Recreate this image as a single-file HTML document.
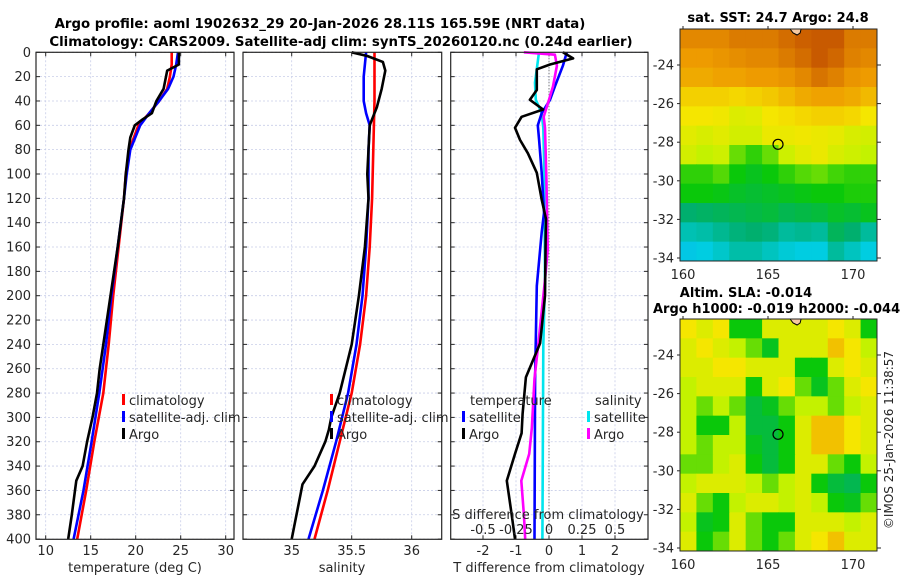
<!DOCTYPE html>
<html><head><meta charset="utf-8"><style>
body{margin:0;background:#fff;}
svg{display:block;font-family:"DejaVu Sans","Liberation Sans",sans-serif;}
</style></head><body>
<svg id="fig" width="900" height="580" viewBox="0 0 900 580">
<text x="320" y="28" text-anchor="middle" font-size="13.3" font-weight="bold">Argo profile: aoml 1902632_29 20-Jan-2026 28.11S 165.59E (NRT data)</text>
<text x="341" y="46" text-anchor="middle" font-size="13.3" font-weight="bold">Climatology: CARS2009. Satellite-adj clim: synTS_20260120.nc (0.24d earlier)</text>
<text x="778" y="22" text-anchor="middle" font-size="13" font-weight="bold">sat. SST: 24.7 Argo: 24.8</text>
<text x="746" y="297" text-anchor="middle" font-size="13" font-weight="bold">Altim. SLA: -0.014</text>
<text x="653" y="313" font-size="13" font-weight="bold">Argo h1000: -0.019 h2000: -0.044</text>
<text transform="translate(893,440) rotate(-90)" text-anchor="middle" font-size="12" fill="#262626">©IMOS 25-Jan-2026 11:38:57</text>
</svg>
<script>
// ---------- data ----------
const depthTicks=[0,20,40,60,80,100,120,140,160,180,200,220,240,260,280,300,320,340,360,380,400];
const tempTicks=[10,15,20,25,30];
const salTicks=[35,35.5,36];
const salTickLabels=["35","35.5","36"];
const tdiffTicks=[-2,-1,0,1,2];
const sdiffTicks=[-0.5,-0.25,0,0.25,0.5];
const sdiffTickLabels=["-0.5","-0.25","0","0.25","0.5"];
// temperature profiles [depth, value]
const tempClimDepth=[0,10,20,30,40,50,60,80,100,120,160,200,240,280,320,360,400];
const tempClim=[24.0,24.0,23.8,23.5,22.6,21.5,20.3,19.3,18.9,18.7,18.1,17.5,17.0,16.4,15.4,14.5,13.5];
const tempSatDepth=[0,10,20,30,40,50,60,80,100,120,160,200,240,280,320,360,400];
const tempSat=[24.7,24.5,24.2,23.6,22.6,21.5,20.5,19.4,19.0,18.7,18.0,17.3,16.7,15.95,15.1,14.2,13.1];
const tempArgoDepth=[0,5,10,15,30,40,50,55,60,70,80,100,120,160,200,240,260,280,300,320,340,352,360,380,400];
const tempArgo=[24.8,24.8,24.8,23.5,23.1,22.3,21.8,20.8,19.9,19.4,19.2,18.9,18.7,18.0,17.2,16.4,16.0,15.7,15.2,14.6,14.1,13.4,13.25,12.9,12.5];
// salinity profiles
const salClimDepth=[0,40,80,120,160,200,240,280,320,360,400];
const salClim=[35.69,35.69,35.68,35.67,35.65,35.62,35.57,35.50,35.40,35.30,35.19];
const salSatDepth=[0,20,40,50,60,80,120,160,200,240,280,320,360,400];
const salSat=[35.62,35.60,35.60,35.62,35.65,35.64,35.64,35.62,35.59,35.54,35.47,35.37,35.26,35.14];
const salArgoDepth=[0,3,8,15,30,45,55,60,80,100,120,160,200,240,280,300,310,320,340,355,370,390,400];
const salArgo=[35.50,35.63,35.76,35.78,35.75,35.71,35.67,35.65,35.64,35.63,35.64,35.61,35.56,35.50,35.40,35.33,35.31,35.28,35.19,35.09,35.06,35.02,35.00];
// differences
const dTArgoDepth=[0,5,10,14,31,39,47,53,62,72,83,99,121,137,148,200,239,267,297,313,330,352,380,400];
const dTArgo=[0.42,0.73,0.03,-0.37,-0.37,-0.58,-0.18,-0.83,-1.03,-0.88,-0.64,-0.37,-0.22,-0.09,-0.1,-0.12,-0.27,-0.7,-0.8,-0.83,-1.03,-1.28,-1.13,-1.03];
const dTSatDepth=[0,11,28,39,50,60,72,99,132,148,192,268,400];
const dTSat=[0.54,0.42,0.18,0.03,-0.22,-0.34,-0.3,-0.22,-0.15,-0.22,-0.37,-0.42,-0.44];
const dSArgoDepth=[0,2,11,28,39,53,62,104,162,187,239,268,309,330,352,380,400];
const dSArgo=[-0.19,0.045,0.06,0.03,0,-0.04,-0.03,-0.02,-0.01,-0.03,-0.08,-0.11,-0.13,-0.15,-0.21,-0.19,-0.18];
const dSSatDepth=[0,25,39,50,62,100,187,241,400];
const dSSat=[-0.076,-0.106,-0.1,-0.055,-0.043,-0.035,-0.03,-0.043,-0.05];
// maps: colour index grids (rows north->south, 12 cols west->east)
const mapLatTicks=[-24,-26,-28,-30,-32,-34];
const mapLonTicks=[160,165,170];
const argoLon=165.59, argoLat=-28.11;
const sstGrid=[
[6.3,6.3,6.3,6.5,6.5,6.5,6.7,6.9,7.2,7,6.5,6.5],
[6,6,6.1,6.2,6.3,6.3,6.5,6.7,7,6.8,6.4,6.3],
[5.8,5.8,5.9,5.9,6,6,6.1,6.3,6.6,6.4,6.1,6],
[5.3,5.3,5.3,5.2,5.3,5.4,5.6,5.8,5.9,5.9,5.8,5.6],
[5,5,4.9,4.5,4.6,5,5.1,5.2,5.3,5.3,5.2,5],
[4.6,4.4,4.6,4.3,4.3,4.8,4.8,4.9,4.8,4.7,4.4,4.3],
[4.3,4,4.2,3.5,3.2,3.5,4.2,4.6,4.8,4.4,4.2,4],
[3.2,3.2,3.4,3,2.8,3,3.2,3.4,3.5,3.3,3.2,3.2],
[3,3,2.9,2.7,2.6,2.7,2.8,2.9,3,3,3.1,3.1],
[2,2.1,2.2,2.3,2.4,2.5,2.3,2.4,2.5,2.7,2.6,2.8],
[1.4,1.5,1.7,1.9,2,1.9,1.6,1.7,1.6,2.2,2,1.6],
[0.9,1,1.2,1.5,1.5,1.3,1.1,1,1,1.6,1.3,1]];
const slaGrid=[
[5,4.5,5,3,3,4.5,4.5,4.5,4.5,5,4.5,3],
[4.5,5,4.5,4,3.5,2.8,4.5,4.5,4.5,5.5,5,4],
[4.5,4.5,5,5,4.5,4.5,4.5,3,3,4.5,5,4.5],
[4,4.5,4.5,4.5,3,4.5,5,3.5,2.8,3.5,4.5,5],
[4,3.5,4,3.5,2.5,2.8,3.5,4,4,3.5,4,4.5],
[4,3,3,4,2.5,2.5,3,4.5,5.5,5.5,5,4.5],
[4,3.5,4,4,2.8,2.5,3,4.5,5.5,5.5,5,4.5],
[3.5,3.5,4,4.5,3,2.5,3,4.5,4.5,3.5,3,4],
[4,4.5,4.5,4.5,4,3.5,4,4.5,3,2.5,2.3,3],
[4.5,3.5,3,4,4.5,4.5,4,4.5,4,3,2.8,3.5],
[4,2.8,3,4.5,3.5,3,3,4.5,4.5,4.5,4,4.5],
[4.5,3,3.5,4.5,3.5,3,3.5,4.5,5,5.5,4.5,4.5]];

// ---------- helpers ----------
const NS="http://www.w3.org/2000/svg";
const svg=document.getElementById('fig');
function mk(tag,attrs,parent){const e=document.createElementNS(NS,tag);for(const k in attrs)e.setAttribute(k,attrs[k]);(parent||svg).appendChild(e);return e;}
const Y0=52.3,YK=1.217;
const yD=d=>Y0+YK*d;
const xT=t=>45.7+9*(t-10);
const xS=s=>291.7+120*(s-35);
const xdT=v=>549+33*v;
const xdS=v=>549+132*v;
const panels=[[36,234],[243,441.7],[450.7,648]];
const PB=539.3;

panels.forEach((p,i)=>{
  const g=mk('g',{});
  
  
  depthTicks.forEach(d=>{
    const l=mk('line',{x1:p[0],x2:p[1],y1:yD(d),y2:yD(d),stroke:'#c8cde8','stroke-width':0.8,'stroke-dasharray':'2,2'},g);
    
    
    mk('line',{x1:p[0],x2:p[0]+4,y1:yD(d),y2:yD(d),stroke:'#262626'},g);
    mk('line',{x1:p[1]-4,x2:p[1],y1:yD(d),y2:yD(d),stroke:'#262626'},g);
  });
  const xs=i==0?tempTicks.map(xT):i==1?salTicks.map(xS):tdiffTicks.map(xdT);
  xs.forEach(x=>{
    const l=mk('line',{x1:x,x2:x,y1:Y0,y2:PB,stroke:'#c8cde8','stroke-width':0.8,'stroke-dasharray':'2,2'},g);
    
    
    mk('line',{x1:x,x2:x,y1:PB-4,y2:PB,stroke:'#262626'},g);
    mk('line',{x1:x,x2:x,y1:Y0,y2:Y0+4,stroke:'#262626'},g);
  });
});
const zl=mk('line',{x1:xdT(0),x2:xdT(0),y1:Y0,y2:PB,stroke:'#555','stroke-width':1,'stroke-dasharray':'1,2'});



depthTicks.forEach(d=>{
  const t=mk('text',{x:31,y:yD(d)+4.5,'text-anchor':'end','font-size':13,fill:'#262626'});
  t.textContent=d;
  
  
});
function xlabels(ticks,labels,fx,y,name){
  ticks.forEach((v,i)=>{
    const t=mk('text',{x:fx(v),y:y,'text-anchor':'middle','font-size':13,fill:'#262626'});
    t.textContent=labels[i];
    
    
  });
}
xlabels(tempTicks,tempTicks.map(String),xT,555,'temperature-tick-label');
xlabels(salTicks,salTickLabels,xS,555,'salinity-tick-label');
xlabels(tdiffTicks,tdiffTicks.map(String),xdT,555,'t-diff-tick-label');
function lbl(txt,x,y,name,anchor){const t=mk('text',{x:x,y:y,'text-anchor':anchor||'middle','font-size':13,fill:'#262626'});t.textContent=txt;return t;}
lbl('temperature (deg C)',135,572,'temperature-axis-title');
lbl('salinity',342,572,'salinity-axis-title');
lbl('T difference from climatology',549,572,'t-diff-axis-title');

function series(depths,vals,fx,color,name,w){
  const pts=depths.map((d,i)=>fx(vals[i]).toFixed(1)+','+yD(d).toFixed(1)).join(' ');
  const p=mk('polyline',{points:pts,fill:'none',stroke:color,'stroke-width':w||2.6,'stroke-linejoin':'round'});
  
  
}
series(tempClimDepth,tempClim,xT,'#ff0000','temp-climatology-line');
series(tempSatDepth,tempSat,xT,'#0000ff','temp-satellite-line');
series(tempArgoDepth,tempArgo,xT,'#000','temp-argo-line');
series(salClimDepth,salClim,xS,'#ff0000','sal-climatology-line');
series(salSatDepth,salSat,xS,'#0000ff','sal-satellite-line');
series(salArgoDepth,salArgo,xS,'#000','sal-argo-line');
series(dSSatDepth,dSSat,xdS,'#00e5ee','sdiff-satellite-line');
series(dTSatDepth,dTSat,xdT,'#0000ff','tdiff-satellite-line');
series(dSArgoDepth,dSArgo,xdS,'#ff00ff','sdiff-argo-line');
series(dTArgoDepth,dTArgo,xdT,'#000','tdiff-argo-line');

panels.forEach((p,i)=>{
  const r=mk('rect',{x:p[0],y:Y0,width:p[1]-p[0],height:PB-Y0,fill:'none',stroke:'#262626','stroke-width':1.2});
  
  
});

function legItem(x,y,color,txt,name){
  const m=mk('rect',{x:x,y:y-11,width:3,height:11,fill:color});
  
  
  lbl(txt,x+7,y,name,'start');
}
legItem(122,405,'#ff0000','climatology','legend-climatology');
legItem(122,422,'#0000ff','satellite-adj. clim','legend-satellite');
legItem(122,439,'#000','Argo','legend-argo');
legItem(330,405,'#ff0000','climatology','legend2-climatology');
legItem(330,422,'#0000ff','satellite-adj. clim','legend2-satellite');
legItem(330,439,'#000','Argo','legend2-argo');
lbl('temperature',470,405,'legend3-temperature-header','start');
lbl('salinity',595,405,'legend3-salinity-header','start');
legItem(462,422,'#0000ff','satellite','legend3-t-satellite');
legItem(462,439,'#000','Argo','legend3-t-argo');
legItem(587,422,'#00e5ee','satellite','legend3-s-satellite');
legItem(587,439,'#ff00ff','Argo','legend3-s-argo');
lbl('S difference from climatology',548,519,'s-diff-axis-title');
xlabels(sdiffTicks,sdiffTickLabels,xdS,534,'s-diff-tick-label');

// ---------- maps ----------
const cmapStops=[[0,[20,140,255]],[1,[0,205,225]],[2,[0,175,110]],[3,[10,200,10]],[4,[195,242,0]],[5,[245,230,0]],[6,[238,155,0]],[7,[200,90,0]]];
function cmap(v){
  for(let i=0;i<cmapStops.length-1;i++){
    const a=cmapStops[i],b=cmapStops[i+1];
    if(v<=b[0]){const f=Math.max(0,(v-a[0])/(b[0]-a[0]));return 'rgb('+a[1].map((c,k)=>Math.round(c+f*(b[1][k]-c))).join(',')+')';}
  }
  return 'rgb(200,90,0)';
}
function drawMap(top,grid,name){
  const L=680,R=877,B=top+232;
  const xL=lon=>683+17*(lon-160);
  const yL=lat=>top+36-19.3*(lat+24);
  const g=mk('g',{});
  
  
  const nr=grid.length,nc=grid[0].length,cw=(R-L)/nc,ch=(B-top)/nr;
  grid.forEach((row,r)=>row.forEach((v,c)=>{
    const cell=mk('rect',{x:L+c*cw,y:top+r*ch,width:cw+0.5,height:ch+0.5,fill:cmap(v)},g);
    
    
  }));
  const lx=xL(166.3);
  const land=mk('path',{d:'M'+lx+','+top+' l3,4 l4,2 l3,-2 l1,-4 z',fill:'#f5c8a0',stroke:'#000','stroke-width':1},g);
  
  
  const c=mk('circle',{cx:xL(argoLon),cy:yL(argoLat),r:5,fill:'none',stroke:'#000','stroke-width':1.2},g);
  
  
  const f=mk('rect',{x:L,y:top,width:R-L,height:B-top,fill:'none',stroke:'#262626','stroke-width':1},g);
  
  
  mapLatTicks.forEach(lat=>{
    mk('line',{x1:R,x2:R+4,y1:yL(lat),y2:yL(lat),stroke:'#262626'},g);
    mk('line',{x1:L-3,x2:L,y1:yL(lat),y2:yL(lat),stroke:'#262626'},g);
    const t=mk('text',{x:L-6,y:yL(lat)+4.5,'text-anchor':'end','font-size':13,fill:'#262626'},g);
    t.textContent=lat;
    
    
  });
  mapLonTicks.forEach(lon=>{
    mk('line',{x1:xL(lon),x2:xL(lon),y1:top-3,y2:top,stroke:'#262626'},g);
    const t=mk('text',{x:xL(lon),y:B+18,'text-anchor':'middle','font-size':13,fill:'#262626'},g);
    t.textContent=lon;
    
    
  });
}
drawMap(29,sstGrid,'sst-map');
drawMap(319,slaGrid,'sla-map');
</script>
</body></html>
